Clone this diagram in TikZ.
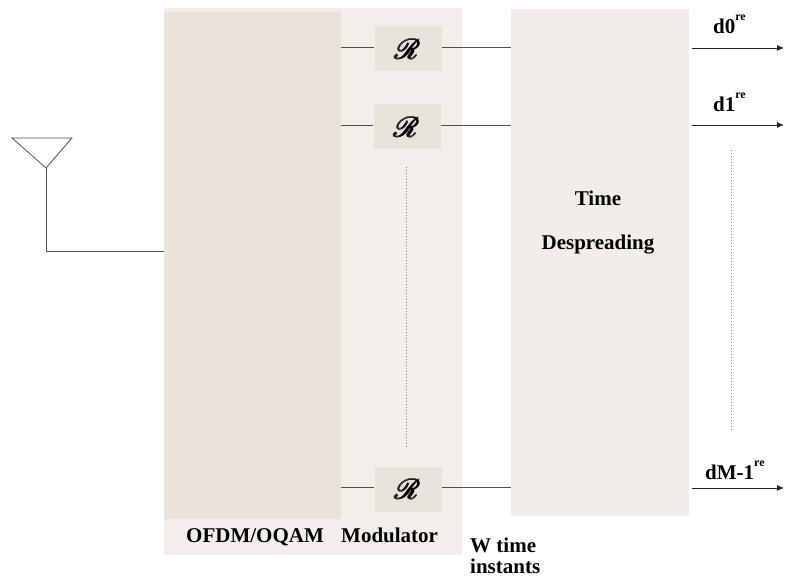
\documentclass[tikz,border=0pt]{standalone}
\usepackage{amsmath}
\usepackage{mathrsfs}
\usepackage{fontspec}
\setmainfont{Liberation Serif}
\usetikzlibrary{arrows.meta}
\definecolor{outerc}{HTML}{F2EFEB}
\definecolor{innerc}{HTML}{E8E2DA}
\definecolor{rboxc}{HTML}{E8E3DB}
\definecolor{despc}{HTML}{F1EEE9}
\definecolor{wirec}{HTML}{505050}
\newcommand{\supre}{\raisebox{13pt}{\fontsize{12}{12}\selectfont re}}
\newcommand{\bigR}{\scalebox{2.8}{$\pmb{\mathscr{R}}$}}
\begin{document}
\begin{tikzpicture}[x=1pt,y=-1pt,
  panel/.style={draw=none,inner sep=0pt,anchor=north west},
  rbox/.style={fill=rboxc,draw=none,inner sep=0pt,minimum width=67pt,minimum height=45pt},
  wire/.style={draw=wirec,line width=0.8pt},
  outarr/.style={draw=black!85,line width=0.8pt,-{Latex[length=7pt,width=6pt]}},
  lbl/.style={inner sep=0pt,font=\bfseries\fontsize{21}{23}\selectfont},
  fdots/.style={draw=gray,line width=0.6pt,dash pattern=on 0.8pt off 2.2pt}]
\useasboundingbox (0,0) rectangle (785,577);
% panels
\node[panel,fill=outerc,minimum width=298pt,minimum height=547pt] (mod) at (164,8) {};
\node[panel,fill=innerc,minimum width=177pt,minimum height=507pt] (ofdm) at (164,12) {};
\node[panel,fill=despc,minimum width=178pt,minimum height=507pt] (desp) at (511,9) {};
% R boxes
\node[rbox] (r1) at (408,49) {\bigR};
\node[rbox] (r2) at (407,127) {\bigR};
\node[rbox] (r3) at (408,489) {\bigR};
% wires
\draw[wire] ([yshift=2pt]ofdm.east |- r1.west) -- ([yshift=2pt]r1.west);
\draw[wire] ([yshift=2pt]ofdm.east |- r2.west) -- ([yshift=2pt]r2.west);
\draw[wire] ([yshift=2pt]ofdm.east |- r3.west) -- ([yshift=2pt]r3.west);
\draw[wire] ([yshift=2pt]r1.east) -- ([yshift=2pt]desp.west |- r1.east);
\draw[wire] ([yshift=2pt]r2.east) -- ([yshift=2pt]desp.west |- r2.east);
\draw[wire] ([yshift=2pt]r3.east) -- ([yshift=2pt]desp.west |- r3.east);
% outputs
\coordinate (o1) at (784,48);
\coordinate (o2) at (784,125);
\coordinate (o3) at (784,488);
\draw[outarr] ([xshift=3pt]desp.east |- o1) -- (o1);
\draw[outarr] ([xshift=3pt]desp.east |- o2) -- (o2);
\draw[outarr] ([xshift=3pt]desp.east |- o3) -- (o3);
\node[lbl,anchor=base west] (l1) at (713,34) {d0\supre};
\node[lbl,anchor=base west] (l2) at (713,112) {d1\supre};
\node[lbl,anchor=base west] (l3) at (705,479) {dM-1\supre};
% dotted
\draw[fdots] (406,167) -- (406,447);
\draw[fdots] (731,150) -- (731,430);
% antenna
\coordinate (ant) at (46,168);
\draw[wire] (12,138) -- (72,138) -- (ant) -- cycle;
\draw[wire] (ant) |- (ofdm.west |- 0,251);
% labels
\node[lbl,anchor=base west] (tofdm) at (186,542) {OFDM/OQAM};
\node[lbl,anchor=base west] (tmod) at (341,542) {Modulator};
\node[lbl,anchor=base west] (tw1) at (470,552) {W time};
\node[lbl,anchor=base west] (tw2) at (470,573) {instants};
\node[lbl] (tt1) at (598,198) {Time};
\node[lbl] (tt2) at (598,245) {Despreading};
\end{tikzpicture}
\end{document}
